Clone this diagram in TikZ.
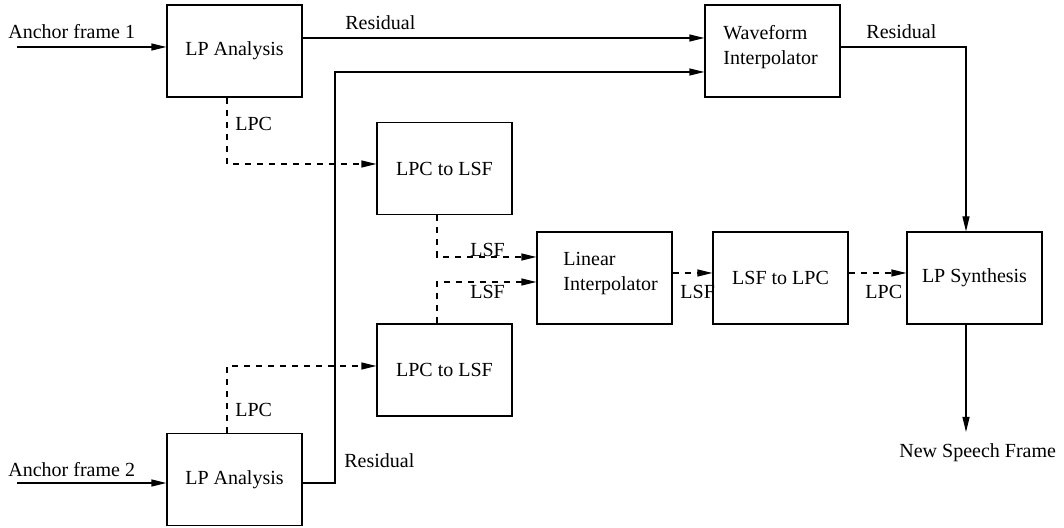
\documentclass[tikz,border=0pt]{standalone}
\usepackage{fontspec}
\setmainfont{Liberation Serif}
\usetikzlibrary{arrows.meta,calc}
\begin{document}
\begin{tikzpicture}[x=0.5pt,y=-0.5pt,
  box/.style={draw, line width=0.6pt, minimum width=67.5pt, minimum height=46pt,
              inner sep=0pt, font=\fontsize{10}{12.5}\selectfont},
  lbl/.style={inner sep=0pt, anchor=base west, font=\fontsize{10}{12.5}\selectfont},
  wire/.style={line width=0.6pt},
  arr/.style={wire, -{Triangle[length=7.5pt,width=3.5pt]}},
  darr/.style={arr, dash pattern=on 3pt off 3pt}]
\useasboundingbox (0,0) rectangle (1064,528);

% processing blocks
\node[box] (lpa1) at (234.5,51) {LP Analysis};
\node[box] (wi)   at (772.5,51) {};
\node[box] (lsf1) at (444.5,168.5) {LPC to LSF};
\node[box] (lsf2) at (444.5,370) {LPC to LSF};
\node[box] (li)   at (604.5,278) {};
\node[box] (lsl)  at (780.5,278) {LSF to LPC};
\node[box] (lps)  at (974.5,278) {LP Synthesis};
\node[box] (lpa2) at (234.5,479.5) {LP Analysis};

% left-aligned two-line block captions
\node[lbl, anchor=west, align=left] (wit) at (723,47) {Waveform\\Interpolator};
\node[lbl, anchor=west, align=left] (lit) at (563,274) {Linear\\Interpolator};

% inputs
\coordinate (in1) at (17,47);
\coordinate (in2) at (17,483);
\draw[arr] (in1) -- (in1 -| lpa1.west);
\draw[arr] (in2) -- (in2 -| lpa2.west);

% residual paths
\draw[arr] ([yshift=6.5pt]lpa1.east) -- ([yshift=6.5pt]wi.west);
\coordinate (bend) at (335,483);
\draw[arr] (bend -| lpa2.east) -- (bend) |- ([yshift=-10.5pt]wi.west);
\draw[arr] ([yshift=2pt]wi.east) -| ([xshift=-4.25pt]lps.north);

% LPC / LSF paths
\draw[darr] ([xshift=-3.75pt]lpa1.south) |- ([yshift=2.25pt]lsf1.west);
\draw[darr] ([xshift=-3.75pt]lpa2.north) |- ([yshift=2pt]lsf2.west);
\draw[darr] ([xshift=-3.75pt]lsf1.south) |- ([yshift=10.5pt]li.west);
\draw[darr] ([xshift=-3.75pt]lsf2.north) |- ([yshift=-2pt]li.west);
\draw[darr] ([yshift=2.5pt]li.east) -- ([yshift=2.5pt]lsl.west);
\draw[darr] ([yshift=2.5pt]lsl.east) -- ([yshift=2.5pt]lps.west);

% output
\coordinate (out) at (966,432);
\draw[arr] ([xshift=-4.25pt]lps.south) -- (out);

% signal labels
\node[lbl] (t1) at (8,39) {Anchor frame 1};
\node[lbl] (t2) at (8,476) {Anchor frame 2};
\node[lbl] (r1) at (345,30) {Residual};
\node[lbl] (r2) at (866,39) {Residual};
\node[lbl] (r3) at (344,467) {Residual};
\node[lbl] (c1) at (235,131) {LPC};
\node[lbl] (c2) at (235,417) {LPC};
\node[lbl] (s1) at (470,257) {LSF};
\node[lbl] (s2) at (470,299) {LSF};
\node[lbl] (s3) at (680,299) {LSF};
\node[lbl] (c3) at (865,299) {LPC};
\node[lbl] (nsf) at (899,458) {New Speech Frame};
\end{tikzpicture}
\end{document}
